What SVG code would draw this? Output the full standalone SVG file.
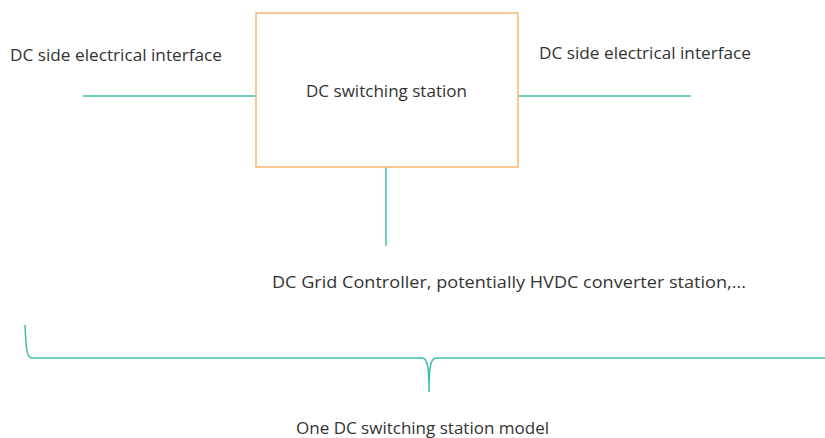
<svg xmlns="http://www.w3.org/2000/svg" width="825" height="438" viewBox="0 0 825 438">
<style>
text{font-family:"Open Sans","Liberation Sans",sans-serif;font-size:17px;fill:#333}
.ln{stroke:#3DBFA8;stroke-width:1.5;fill:none}
</style>
<rect width="825" height="438" fill="#fff"/>
<g id="connectors">
<line class="ln" x1="83" y1="96" x2="256" y2="96"/>
<line class="ln" x1="518" y1="96" x2="691" y2="96"/>
<line class="ln" x1="386" y1="167" x2="386" y2="246"/>
<path class="ln" d="M25,325 C26,350 27,358 32,358 L422,358 C428,358 429,370 429,392 C429,370 430,358 436,358 L825,358"/>
</g>
<g id="station">
<rect x="256" y="13" width="262" height="154" fill="#fff" stroke="#F9B86E" stroke-width="1.5"/>
<text x="306" y="97" textLength="161" lengthAdjust="spacingAndGlyphs">DC switching station</text>
</g>
<g id="left-interface"><text x="10" y="61" textLength="212" lengthAdjust="spacingAndGlyphs">DC side electrical interface</text></g>
<g id="right-interface"><text x="539" y="59" textLength="212" lengthAdjust="spacingAndGlyphs">DC side electrical interface</text></g>
<g id="controller"><text x="272" y="288" textLength="474" lengthAdjust="spacingAndGlyphs">DC Grid Controller, potentially HVDC converter station,...</text></g>
<g id="model-label"><text x="296" y="434" textLength="253" lengthAdjust="spacingAndGlyphs">One DC switching station model</text></g>
</svg>
